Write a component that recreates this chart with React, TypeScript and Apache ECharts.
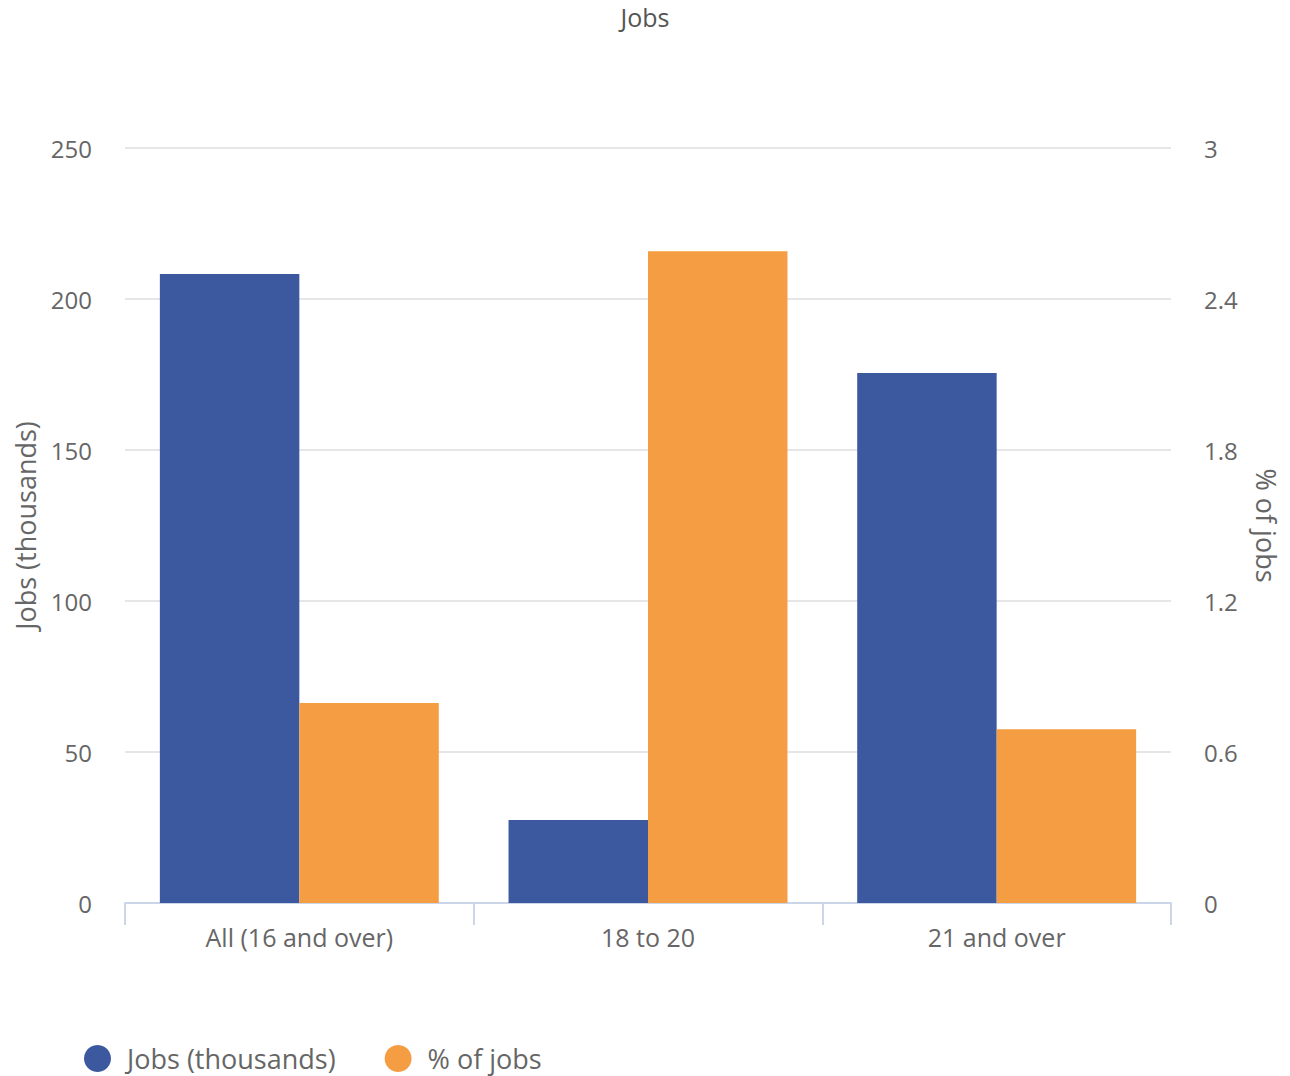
import React, { useEffect, useRef } from "react";
import * as echarts from "echarts";

const categories = ["All (16 and over)", "18 to 20", "21 and over"];
const jobsThousands = [208.3, 27.5, 175.5];
const pctOfJobs = [0.795, 2.59, 0.69];
const leftTicks = { min: 0, max: 250, interval: 50 };
const rightTicks = { min: 0, max: 3, interval: 0.6 };

const FONT = "'Open Sans', sans-serif";
const TEXT = "#666666";

export default function App() {
  const ref = useRef<HTMLDivElement>(null);
  useEffect(() => {
    document.body.style.margin = "0";
    const chart = echarts.init(ref.current!, null, { renderer: "svg" });
    chart.setOption({
      animation: false,
      textStyle: { fontFamily: FONT },
      title: {
        text: "Jobs",
        left: "center",
        top: -1,
        textStyle: { fontFamily: FONT, fontSize: 25, fontWeight: "normal", color: "#555555" },
      },
      legend: {
        left: 79,
        bottom: -1,
        icon: "circle",
        itemWidth: 49,
        itemHeight: 27,
        itemGap: 49,
        textStyle: { fontFamily: FONT, fontSize: 27, color: TEXT },
        data: ["Jobs (thousands)", "% of jobs"],
      },
      grid: { left: 125, right: 119, top: 148, bottom: 173 },
      xAxis: {
        type: "category",
        data: categories,
        axisLine: { lineStyle: { color: "#ccd6eb", width: 2 } },
        axisTick: { show: true, length: 22, lineStyle: { color: "#ccd6eb", width: 2 } },
        axisLabel: { fontFamily: FONT, fontSize: 25, color: TEXT, margin: 21 },
      },
      yAxis: [
        {
          type: "value",
          ...leftTicks,
          name: "Jobs (thousands)",
          nameLocation: "middle",
          nameGap: 86,
          nameRotate: 90,
          nameTextStyle: { fontFamily: FONT, fontSize: 27, color: TEXT },
          axisLine: { show: false },
          axisTick: { show: false },
          axisLabel: { fontFamily: FONT, fontSize: 24, color: TEXT, margin: 33 },
          splitLine: { lineStyle: { color: "#e6e6e6", width: 2 } },
        },
        {
          type: "value",
          ...rightTicks,
          name: "% of jobs",
          nameLocation: "middle",
          nameGap: 82,
          nameRotate: -90,
          nameTextStyle: { fontFamily: FONT, fontSize: 27, color: TEXT },
          axisLine: { show: false },
          axisTick: { show: false },
          axisLabel: { fontFamily: FONT, fontSize: 24, color: TEXT, margin: 33 },
          splitLine: { show: false },
        },
      ],
      series: [
        {
          name: "Jobs (thousands)",
          type: "bar",
          yAxisIndex: 0,
          data: jobsThousands,
          barGap: "0%",
          barCategoryGap: "20%",
          itemStyle: { color: "#3c59a0" },
        },
        {
          name: "% of jobs",
          type: "bar",
          yAxisIndex: 1,
          data: pctOfJobs,
          barGap: "0%",
          barCategoryGap: "20%",
          itemStyle: { color: "#f59d43" },
        },
      ],
    });
    return () => chart.dispose();
  }, []);
  return <div ref={ref} style={{ width: 1290, height: 1076 }} />;
}
